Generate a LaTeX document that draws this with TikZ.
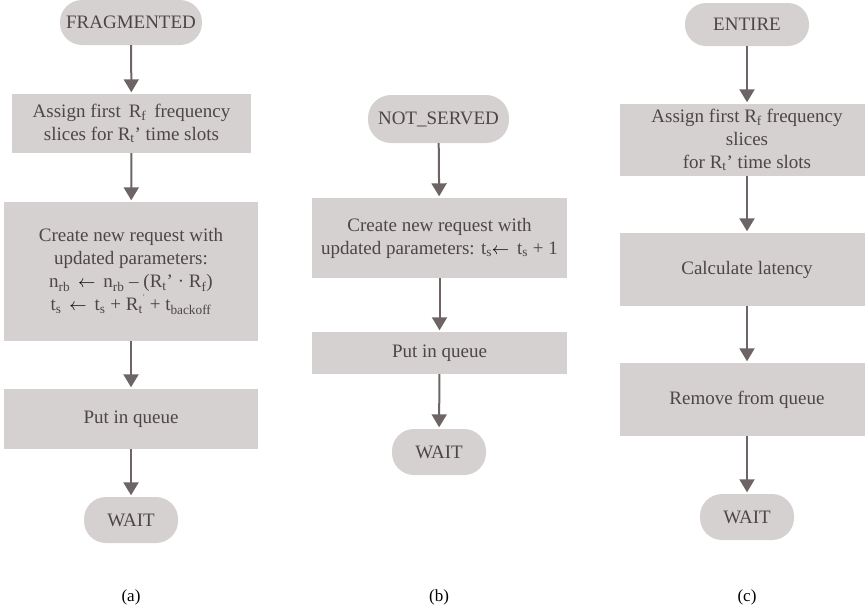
\documentclass[tikz,border=0pt]{standalone}
\usepackage{fontspec}
\setmainfont{Liberation Serif}
\usetikzlibrary{arrows.meta}
\definecolor{boxfill}{HTML}{D5D1D1}
\definecolor{txt}{HTML}{4E4646}
\definecolor{arr}{HTML}{6D6565}
\newcommand{\sbs}[1]{\textsubscript{#1}}
\newcommand{\la}{\textcolor{black}{$\leftarrow$}}
\tikzset{
  procbox/.style={draw=none, fill=boxfill, text=txt, align=center, inner sep=0pt,
    font=\fontsize{19}{23}\selectfont},
  pill/.style={procbox, rounded corners=22pt},
  flow/.style={draw=arr, line width=2pt, -{Triangle[width=15pt,length=13pt]}, shorten >=1.5pt},
  sublabel/.style={text=black, font=\fontsize{17}{20}\selectfont, inner sep=0pt}
}
\begin{document}
\begin{tikzpicture}[x=1pt,y=-1pt]
\useasboundingbox (0,0) rectangle (865,614);
% column (a)
\node[pill, minimum width=142pt, minimum height=45pt] (fa) at (131,22.5) {FRAGMENTED};
\node[procbox, minimum width=239pt, minimum height=59pt] (a1) at (131.5,123.5)
  {Assign first\, R\sbs{f}\, frequency\\slices for R\sbs{t}’ time slots};
\node[procbox, minimum width=254pt, minimum height=139pt] (a2) at (131,271.5)
  {Create new request with\\updated parameters:\\
   n\sbs{rb}\, \la\, n\sbs{rb} – (R\sbs{t}’ · R\sbs{f})\\
   t\sbs{s}\, \la\, t\sbs{s} + R\sbs{t}\raisebox{0.6em}{\scriptsize ’} + t\sbs{backoff}};
\node[procbox, minimum width=254pt, minimum height=60pt] (a3) at (131,419) {Put in queue};
\node[pill, minimum width=94pt, minimum height=46pt] (wa) at (131,520) {WAIT};
\node[sublabel] (la) at (131,597) {(a)};
\draw[flow] (fa) -- (a1);
\draw[flow] (a1) -- (a2);
\draw[flow] (a2) -- (a3);
\draw[flow] (a3) -- (wa);
% column (b)
\node[pill, minimum width=141pt, minimum height=48pt, rounded corners=23pt] (nb) at (438.5,119) {NOT\_SERVED};
\node[procbox, minimum width=255pt, minimum height=80pt] (b1) at (439.5,238)
  {Create new request with\\updated parameters: t\sbs{s}\la\, t\sbs{s} + 1};
\node[procbox, minimum width=255pt, minimum height=42pt] (b2) at (439.5,353) {Put in queue};
\node[pill, minimum width=94pt, minimum height=46pt] (wb) at (439,452) {WAIT};
\node[sublabel] (lb) at (439,597) {(b)};
\draw[flow] (nb) -- (b1);
\draw[flow] (b1) -- (b2);
\draw[flow] (b2) -- (wb);
% column (c)
\node[pill, minimum width=124pt, minimum height=43pt, rounded corners=21pt] (ec) at (747,24.5) {ENTIRE};
\node[procbox, minimum width=254pt, minimum height=72pt] (c1) at (747,140)
  {Assign first R\sbs{f} frequency\\slices\\for R\sbs{t}’ time slots};
\node[procbox, minimum width=254pt, minimum height=73pt] (c2) at (747,269.5) {Calculate latency};
\node[procbox, minimum width=254pt, minimum height=73pt] (c3) at (747,399.5) {Remove from queue};
\node[pill, minimum width=94pt, minimum height=46pt] (wc) at (747,517) {WAIT};
\node[sublabel] (lc) at (747,597) {(c)};
\draw[flow] (ec) -- (c1);
\draw[flow] (c1) -- (c2);
\draw[flow] (c2) -- (c3);
\draw[flow] (c3) -- (wc);
\end{tikzpicture}
\end{document}
